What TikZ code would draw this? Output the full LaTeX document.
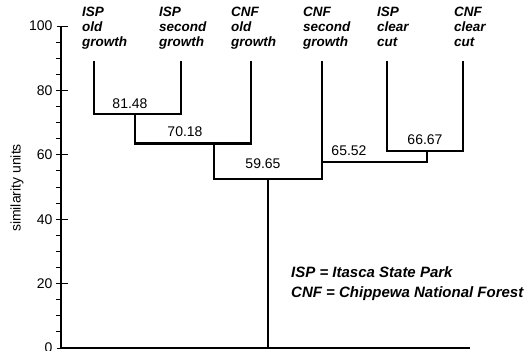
\documentclass[tikz,border=0pt]{standalone}
\usepackage{fontspec}
\setsansfont{Liberation Sans}
\usetikzlibrary{positioning}

\begin{document}
\begin{tikzpicture}[
    x=1pt, y=3.22pt,
    branch/.style={line width=2.8pt, line cap=rect},
    leaf/.style={anchor=north west, inner sep=0pt, align=left,
                 font=\sffamily\bfseries\itshape\fontsize{13.5}{15}\selectfont},
    sim/.style={inner sep=0pt, font=\sffamily\fontsize{14}{16}\selectfont},
    tick/.style={line width=1pt}
  ]
  \useasboundingbox (0,-0.62) rectangle (530,108.08);

  % axis
  \draw[line width=1.3pt] (61,0) coordinate (ax0) -- (61,100) coordinate (ax100);
  \draw[line width=1.4pt] (ax0) -- (470,0) coordinate (axend);
  \foreach \v in {0,20,...,100}
    \draw[tick] (57,\v) -- (68,\v) node[pos=0, left=4pt, sim] (yl\v) {\v};
  \foreach \v in {5,10,...,95}
    \draw[tick] (56,\v) -- (61,\v);
  \node[sim, rotate=90] (ylabel) at (17,49.7) {similarity units};

  % leaf tops
  \coordinate (iog) at (94,88.8);
  \coordinate (isg) at (181,88.8);
  \coordinate (cog) at (251,88.8);
  \coordinate (csg) at (322,88.8);
  \coordinate (icc) at (387,88.8);
  \coordinate (ccc) at (463,88.8);

  % merge points
  \coordinate (m1) at (135,72.7);
  \coordinate (m2) at (214,63.4);
  \coordinate (root) at (268,52.5);
  \coordinate (m4) at (427,61.2);
  \coordinate (m5) at (374,57.8);

  \draw[branch] (iog) |- (m1) -| (isg);
  \draw[branch] (m1) |- (m2) -| (cog);
  \draw[branch] (m2) |- (root) -| (csg);
  \draw[branch] (icc) |- (m4) -| (ccc);
  \draw[branch] (m4) |- (m5) -| (csg);
  \draw[branch, line cap=butt] (root) -- (root |- ax0);

  % leaf labels
  \node[leaf] (t-iog) at (82,106.0) {ISP\\old\\growth};
  \node[leaf] (t-isg) at (159,106.0) {ISP\\second\\growth};
  \node[leaf] (t-cog) at (231,106.0) {CNF\\old\\growth};
  \node[leaf] (t-csg) at (303,106.0) {CNF\\second\\growth};
  \node[leaf] (t-icc) at (377,106.0) {ISP\\clear\\cut};
  \node[leaf] (t-ccc) at (454,106.0) {CNF\\clear\\cut};

  % similarity values
  \node[sim] (s1) at (130,75.8) {81.48};
  \node[sim] (s2) at (185,67.1) {70.18};
  \node[sim] (s3) at (263,57.1) {59.65};
  \node[sim] (s5) at (349,61.2) {65.52};
  \node[sim] (s4) at (425,64.6) {66.67};

  % legend
  \node[leaf, anchor=west, font=\sffamily\bfseries\itshape\fontsize{15}{17}\selectfont]
    (key1) at (291,23.6) {ISP = Itasca State Park};
  \node[leaf, anchor=west, font=\sffamily\bfseries\itshape\fontsize{15}{17}\selectfont]
    (key2) at (291,16.8) {CNF = Chippewa National Forest};
\end{tikzpicture}
\end{document}
